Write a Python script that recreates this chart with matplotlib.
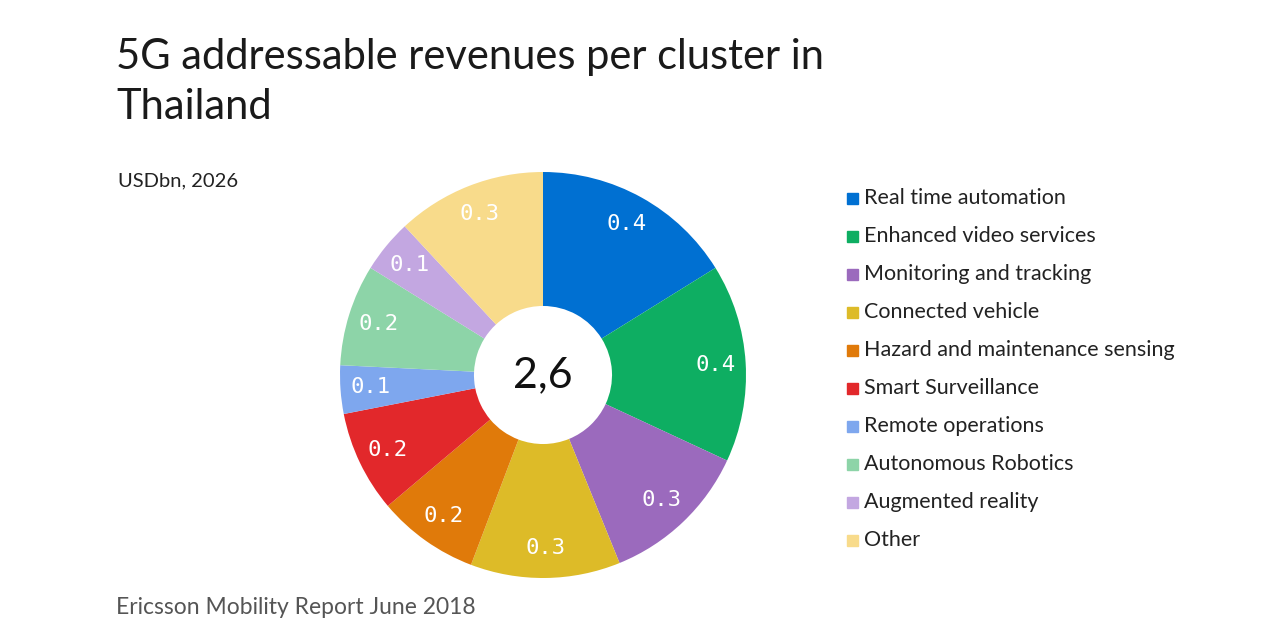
import matplotlib.pyplot as plt
from matplotlib.patches import Rectangle
import numpy as np

# data (USDbn, 2026)
categories = ['Real time automation', 'Enhanced video services', 'Monitoring and tracking',
              'Connected vehicle', 'Hazard and maintenance sensing', 'Smart Surveillance',
              'Remote operations', 'Autonomous Robotics', 'Augmented reality', 'Other']
values = [0.42, 0.41, 0.31, 0.31, 0.21, 0.21, 0.10, 0.21, 0.11, 0.31]
value_labels = ['0.4', '0.4', '0.3', '0.3', '0.2', '0.2', '0.1', '0.2', '0.1', '0.3']
total_label = '2,6'
colors = ['#0070D2', '#0EAE62', '#9B6ABD', '#DDBB28', '#E07A0A',
          '#E2282B', '#7EA7EE', '#8DD4A8', '#C3A7E1', '#F8DB8B']

W, H = 1280, 640
fig = plt.figure(figsize=(12.8, 6.4), dpi=100)
fig.patch.set_facecolor('white')

# donut centred at (543, 375) px, outer radius ~203 px
cx, cy, r = 543, 375, 203
ax = fig.add_axes([(cx - r) / W, (H - cy - r) / H, 2 * r / W, 2 * r / H])
wedges, _ = ax.pie(values, colors=colors, startangle=90, counterclock=False,
                   radius=1, wedgeprops=dict(width=0.66, linewidth=0))
ax.set_xlim(-1, 1)
ax.set_ylim(-1, 1)
ax.set_aspect('equal')
ax.axis('off')

ang = 90.0
tot = sum(values)
for v, lab in zip(values, value_labels):
    sweep = v / tot * 360
    mid = np.deg2rad(ang - sweep / 2)
    ax.text(0.85 * np.cos(mid), 0.85 * np.sin(mid), lab, ha='center', va='center',
            color='white', fontsize=16, family='DejaVu Sans Mono')
    ang -= sweep

ax.text(0, 0, total_label, ha='center', va='center', fontsize=31, color='#111111',
        family='Lato')

# title and notes
fig.text(116 / W, 1 - 38 / H, '5G addressable revenues per cluster in\nThailand',
         ha='left', va='top', fontsize=30, family='Lato', fontweight='normal',
         color='#1a1a1a', linespacing=1.38)
fig.text(118 / W, 1 - 181 / H, 'USDbn, 2026', ha='left', va='center',
         fontsize=14.5, family='Lato', color='#222222')
fig.text(116 / W, 1 - 608 / H, 'Ericsson Mobility Report June 2018', ha='left',
         va='center', fontsize=16.5, family='Lato', color='#555555')

# legend
for i, (name, col) in enumerate(zip(categories, colors)):
    y = 198 + i * 38
    fig.add_artist(Rectangle((847 / W, 1 - (y + 6) / H), 11 / W, 11 / H,
                             color=col, transform=fig.transFigure))
    fig.text(864 / W, 1 - y / H, name, ha='left', va='center', fontsize=15.5,
             family='Lato', color='#222222')

plt.savefig('out.png', dpi=100)
